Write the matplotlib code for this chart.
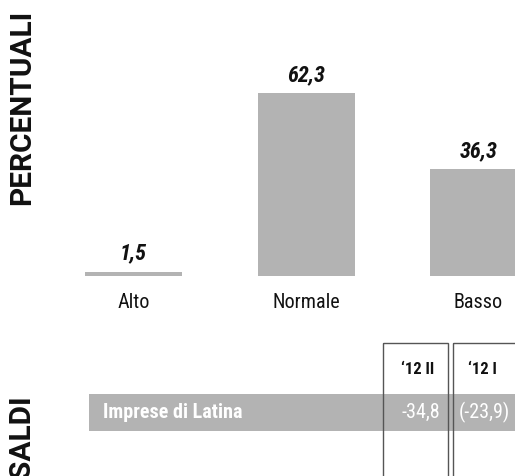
import matplotlib
matplotlib.use("Agg")
import matplotlib.pyplot as plt
from matplotlib.patches import Rectangle

categories = ["Alto", "Normale", "Basso"]
values = [1.5, 62.3, 36.3]
value_labels = ["1,5", "62,3", "36,3"]

table_row = "Imprese di Latina"
table_headers = ["\u201812 II", "\u201812 I"]
table_values = ["-34,8", "(-23,9)"]

W, H = 515, 476
DPI = 100
fig = plt.figure(figsize=(W / DPI, H / DPI), dpi=DPI)

NARROW = ["Liberation Sans Narrow", "Arial Narrow", "Roboto Condensed",
          "Asap Condensed", "Liberation Sans", "DejaVu Sans"]
SIDE = ["Roboto", "Liberation Sans", "DejaVu Sans"]
BAR_GRAY = "#b3b3b3"

# --- bar chart axes (pixel-aligned) ---
bar_bottom_px = 276
px_per_unit = 183 / 62.3
spacing = 172.5
x0 = 133.5
ax = fig.add_axes([0, (H - bar_bottom_px) / H, 1, bar_bottom_px / H])
ax.set_xlim(-x0 / spacing, (W - x0) / spacing)
ax.set_ylim(0, bar_bottom_px / px_per_unit)
ax.axis("off")
xs = list(range(len(categories)))
ax.bar(xs, values, width=97 / spacing, color=BAR_GRAY, edgecolor="none", clip_on=True)
for x, v, lab in zip(xs, values, value_labels):
    ax.annotate(lab, (x, v), xytext=(0, 7), textcoords="offset pixels",
                ha="center", va="bottom", fontsize=16, fontweight="bold",
                fontstyle="italic", family=NARROW, color="#111111")

# --- overlay axes in pixel coordinates ---
ov = fig.add_axes([0, 0, 1, 1], zorder=-1)
ov.set_xlim(0, W)
ov.set_ylim(H, 0)
ov.axis("off")

for x, cat in zip(xs, categories):
    ov.text(x0 + x * spacing, 302, cat, ha="center", va="center",
            fontsize=14.5, family=NARROW, color="#111111")

ov.text(22, 107, "PERCENTUALI", rotation=90, ha="center", va="center",
        fontsize=21.5, fontweight="bold", family=SIDE, color="#111111")
ov.text(22, 478, "SALDI", rotation=90, ha="center", va="bottom",
        fontsize=21.5, fontweight="bold", family=SIDE, color="#111111")

# gray band
ov.add_patch(Rectangle((89, 394), W - 89, 36.5, facecolor=BAR_GRAY, edgecolor="none"))
ov.text(103, 412, table_row, ha="left", va="center", fontsize=14.5,
        fontweight="bold", family=NARROW, color="white")

# header boxes
boxes = [(383, 448), (453, 530)]
header_x = [418, 482]
value_x = [421, 484]
for (l, r), hx, vx, hd, val in zip(boxes, header_x, value_x, table_headers, table_values):
    ov.add_patch(Rectangle((l, 342.5), r - l, 200, facecolor="none",
                           edgecolor="#555555", linewidth=1.0, zorder=3))
    ov.text(hx, 370, hd, ha="center", va="center", fontsize=12,
            fontweight="bold", family=NARROW, color="#111111")
    ov.text(vx, 412, val, ha="center", va="center", fontsize=14.5,
            family=NARROW, color="white")

fig.savefig("out.png", dpi=DPI)
